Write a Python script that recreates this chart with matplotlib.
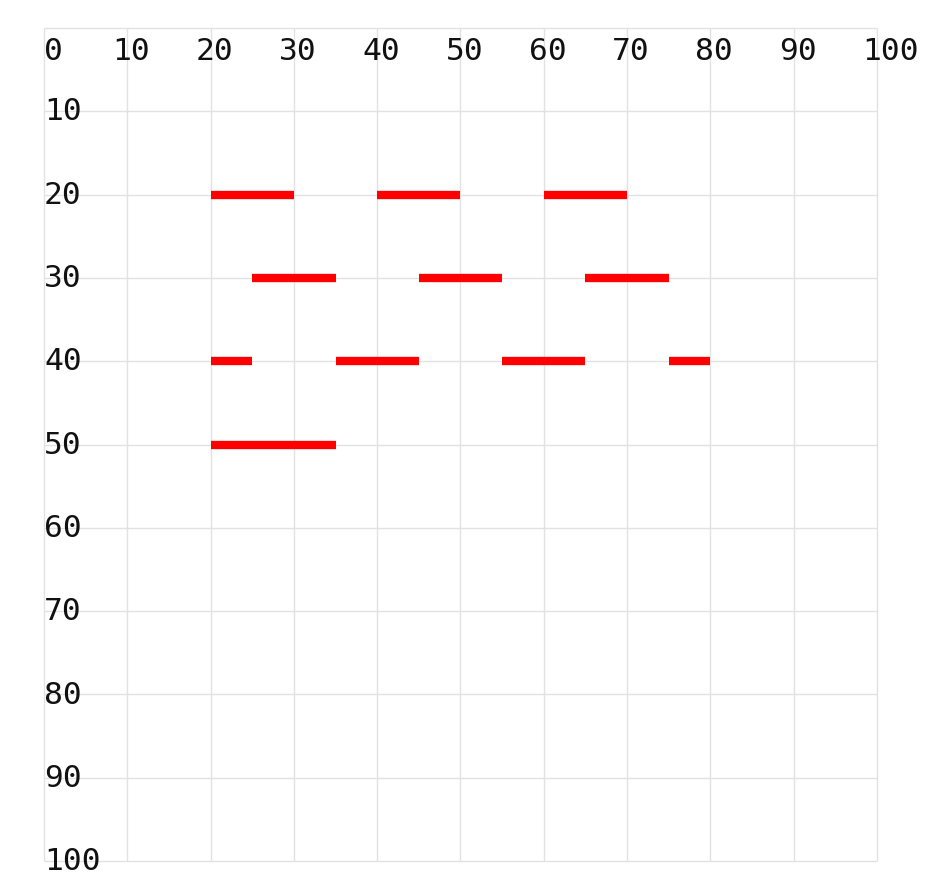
import matplotlib
matplotlib.use("Agg")
import matplotlib.pyplot as plt

# dashed rows: (y, x_start, x_end)
row_y = [20, 20, 20, 30, 30, 30, 40, 40, 40, 40, 50]
seg_x0 = [20, 40, 60, 25, 45, 65, 20, 35, 55, 75, 20]
seg_x1 = [30, 50, 70, 35, 55, 75, 25, 45, 65, 80, 35]
ticks = list(range(0, 101, 10))

fig = plt.figure(figsize=(9.28, 8.94), dpi=100)
ax = fig.add_axes([44 / 928, 33 / 894, 833 / 928, 833 / 894])
ax.set_xlim(0, 100)
ax.set_ylim(100, 0)
ax.axis("off")

# grid
for t in ticks:
    ax.plot([t, t], [0, 100], color="#e2e2e2", lw=1, zorder=1,
            solid_capstyle="butt", clip_on=False)
    ax.plot([0, 100], [t, t], color="#e2e2e2", lw=1, zorder=1,
            solid_capstyle="butt", clip_on=False)

# red segments
for y, a, b in zip(row_y, seg_x0, seg_x1):
    ax.plot([a, b], [y, y], color="#ff0000", lw=6, solid_capstyle="butt", zorder=3)

font = dict(family="DejaVu Sans Mono", fontsize=22.5, color="#111111")
# top labels
for t in ticks:
    ax.text(max(0, t - 1.8), 3.8, str(t), ha="left", va="baseline", **font)
# left labels
for t in ticks[1:]:
    ax.text(0, t + 1.1, str(t), ha="left", va="baseline", **font)

fig.savefig("out.png", dpi=100)
